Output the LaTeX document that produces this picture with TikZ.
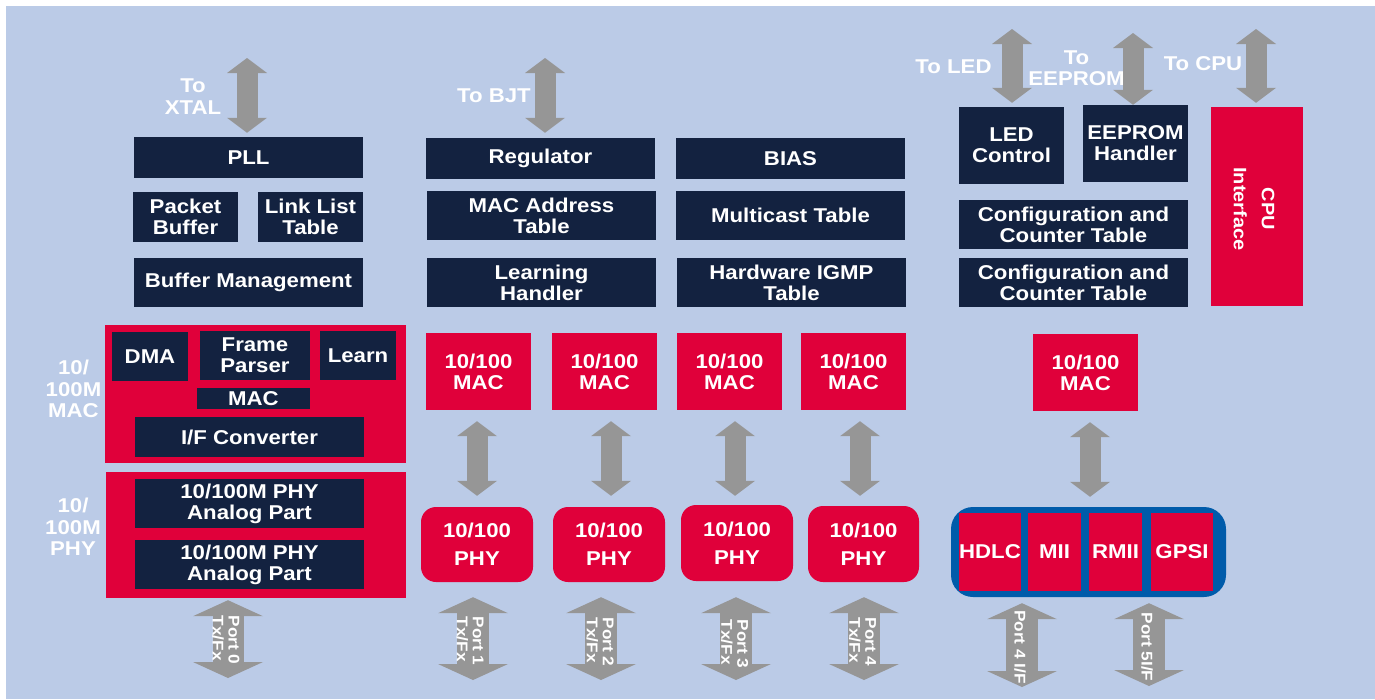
\documentclass[tikz,border=0pt]{standalone}
\usepackage{fontspec}
\setmainfont{Liberation Sans}[FakeStretch=1.11]
\usetikzlibrary{arrows.meta}
\definecolor{bgblue}{HTML}{BBCBE7}
\definecolor{navybg}{HTML}{132240}
\definecolor{redbg}{HTML}{E0003A}
\definecolor{agray}{HTML}{969696}
\definecolor{contblue}{HTML}{005BAA}
\newcommand\boxfont{\bfseries\fontsize{20}{21}\selectfont}
\tikzset{
  nbox/.style={fill=navybg, text=white, inner sep=0pt, align=center, font=\boxfont},
  rbox/.style={fill=redbg, text=white, inner sep=0pt, align=center, font=\boxfont},
  cont/.style={fill=redbg, inner sep=0pt},
  phybox/.style={fill=redbg, text=white, inner sep=0pt, align=center, rounded corners=15pt,
     font=\bfseries\fontsize{20}{28}\selectfont},
  lbl/.style={text=white, inner sep=0pt, align=center, font=\bfseries\fontsize{20}{21.5}\selectfont},
  portlbl/.style={text=white, inner sep=0pt, align=left, rotate=-90, font=\bfseries\fontsize{15.5}{16}\selectfont},
  dblS/.style={draw=agray, line width=21pt,
     {Triangle[width=40pt,length=15pt,line width=0pt]}-{Triangle[width=40pt,length=15pt,line width=0pt]}},
  dblL/.style={draw=agray, line width=32pt,
     {Triangle[width=70pt,length=16pt,line width=0pt]}-{Triangle[width=70pt,length=16pt,line width=0pt]}},
}
\begin{document}
\begin{tikzpicture}[x=1pt,y=-1pt]
\useasboundingbox (0,0) rectangle (1375,699);
\fill[white] (0,0) rectangle (1375,699);
\fill[bgblue] (6,6) rectangle (1375,699);

% ---- left column
\node[nbox, minimum width=229, minimum height=41] (pll) at (248.5,157.5) {PLL};
\node[nbox, minimum width=105, minimum height=50] (pbuf) at (185.5,217) {Packet\\Buffer};
\node[nbox, minimum width=105, minimum height=50] (llt) at (310.5,217) {Link List\\Table};
\node[nbox, minimum width=229, minimum height=49] (bufm) at (248.5,282.5) {Buffer Management};

% ---- middle columns
\node[nbox, minimum width=229, minimum height=41] (reg) at (540.5,158.5) {Regulator};
\node[nbox, minimum width=229, minimum height=49] (mact) at (541.5,215.5) {MAC Address\\Table};
\node[nbox, minimum width=229, minimum height=49] (learnh) at (541.5,282.5) {Learning\\Handler};
\node[nbox, minimum width=229, minimum height=41] (bias) at (790.5,158.5) {BIAS};
\node[nbox, minimum width=229, minimum height=49] (mcast) at (790.5,215.5) {Multicast Table};
\node[nbox, minimum width=229, minimum height=49] (igmp) at (791.5,282.5) {Hardware IGMP\\Table};

% ---- right column
\node[nbox, minimum width=105, minimum height=77] (led) at (1011.5,145.5) {LED\\Control};
\node[nbox, minimum width=105, minimum height=77] (eep) at (1135.5,143.5) {EEPROM\\Handler};
\node[nbox, minimum width=229, minimum height=49] (cfga) at (1073.5,224.5) {Configuration and\\Counter Table};
\node[nbox, minimum width=229, minimum height=49] (cfgb) at (1073.5,282.5) {Configuration and\\Counter Table};
\node[cont, minimum width=92, minimum height=199] (cpu) at (1257,206.5) {};
\node[text=white, inner sep=0pt, align=center, rotate=-90, font=\bfseries\fontsize{18}{28}\selectfont]
  (cputxt) at (1254,209) {CPU\\Interface};

% ---- MAC / PHY containers
\node[cont, minimum width=301, minimum height=138] (macc) at (255.5,394) {};
\node[nbox, minimum width=76, minimum height=49] (dma) at (150,356.5) {DMA};
\node[nbox, minimum width=110, minimum height=49] (fp) at (255,355.5) {Frame\\Parser};
\node[nbox, minimum width=76, minimum height=49] (learn) at (358,355.5) {Learn};
\node[nbox, minimum width=113, minimum height=21] (mac) at (253.5,398.5) {MAC};
\node[nbox, minimum width=229, minimum height=40] (ifc) at (249.5,437) {I/F Converter};
\node[cont, minimum width=300, minimum height=126] (phyc) at (256,535) {};
\node[nbox, minimum width=229, minimum height=49] (aphya) at (249.5,503.5) {10/100M PHY\\Analog Part};
\node[nbox, minimum width=229, minimum height=49] (aphyb) at (249.5,564.5) {10/100M PHY\\Analog Part};

\node[lbl] (maclbl) at (73.5,389) {10/\\100M\\MAC};
\node[lbl] (phylbl) at (73,527) {10/\\100M\\PHY};

% ---- MAC row
\node[rbox, minimum width=105, minimum height=77] (m1) at (478.5,371.5) {10/100\\MAC};
\node[rbox, minimum width=105, minimum height=77] (m2) at (604.5,371.5) {10/100\\MAC};
\node[rbox, minimum width=105, minimum height=77] (m3) at (729.5,371.5) {10/100\\MAC};
\node[rbox, minimum width=105, minimum height=77] (m4) at (853.5,371.5) {10/100\\MAC};
\node[rbox, minimum width=105, minimum height=77] (m5) at (1085.5,372.5) {10/100\\MAC};

% ---- PHY row
\node[phybox, minimum width=112, minimum height=75] (p1) at (477,544.5) {10/100\\PHY};
\node[phybox, minimum width=112, minimum height=75] (p2) at (609,544.5) {10/100\\PHY};
\node[phybox, minimum width=112, minimum height=76] (p3) at (737,543) {10/100\\PHY};
\node[phybox, minimum width=111, minimum height=76] (p4) at (863.5,544) {10/100\\PHY};

\node[fill=contblue, rounded corners=22pt, minimum width=275, minimum height=90, inner sep=0pt] (bluec) at (1088.5,552) {};
\node[rbox, minimum width=62, minimum height=78] (hdlc) at (990,552) {HDLC};
\node[rbox, minimum width=53, minimum height=78] (mii) at (1054.5,552) {MII};
\node[rbox, minimum width=53, minimum height=78] (rmii) at (1115.5,552) {RMII};
\node[rbox, minimum width=62, minimum height=78] (gpsi) at (1182,552) {GPSI};

% ---- top arrows
\coordinate (xtal) at (247,58);
\coordinate (bjt) at (545,58);
\coordinate (ledc) at (1012,29);
\coordinate (eepc) at (1133,33);
\coordinate (cpuc) at (1256,29);
\draw[dblS, shorten >=4pt] (xtal) -- (xtal |- pll.north);
\draw[dblS, shorten >=5pt] (bjt) -- (bjt |- reg.north);
\draw[dblS, shorten >=4pt] (ledc) -- (ledc |- led.north);
\draw[dblS] (eepc) -- (eepc |- eep.north);
\draw[dblS, shorten >=4pt] (cpuc) -- (cpuc |- cpu.north);

\node[lbl] (tx) at (193,96.5) {To\\XTAL};
\node[lbl] (tb) at (494,96) {To BJT};
\node[lbl] (tl) at (953.5,67) {To LED};
\node[lbl] (te) at (1076.5,68) {To\\EEPROM};
\node[lbl] (tc) at (1203,64) {To CPU};

% ---- MAC-PHY arrows
\draw[dblS, shorten <=11pt, shorten >=11pt] (m1.south -| p1.north) -- (p1.north);
\draw[dblS, shorten <=11pt, shorten >=11pt] ([xshift=2pt]m2.south -| p2.north) -- ([xshift=2pt]p2.north);
\draw[dblS, shorten <=11pt, shorten >=9pt] ([xshift=-2pt]m3.south -| p3.north) -- ([xshift=-2pt]p3.north);
\draw[dblS, shorten <=11pt, shorten >=10pt] ([xshift=-3.5pt]m4.south -| p4.north) -- ([xshift=-3.5pt]p4.north);
\draw[dblS, shorten <=11pt, shorten >=10pt] ([xshift=1.5pt]m5.south -| bluec.north) -- ([xshift=1.5pt]bluec.north);

% ---- port arrows
\coordinate (pt0) at (228,678);
\coordinate (pt1) at (473,680);
\coordinate (pt2) at (601,680);
\coordinate (pt3) at (736,680);
\coordinate (pt4) at (864,680);
\coordinate (pt5) at (1022,687);
\coordinate (pt6) at (1149,686);
\draw[dblL, line width=31pt, shorten <=2pt] (phyc.south -| pt0) -- (pt0);
\draw[dblL, shorten <=15pt] (p1.south -| pt1) -- (pt1);
\draw[dblL, shorten <=15pt] (p2.south -| pt2) -- (pt2);
\draw[dblL, shorten <=16pt] (p3.south -| pt3) -- (pt3);
\draw[dblL, shorten <=15pt] (p4.south -| pt4) -- (pt4);
\draw[dblL, shorten <=6pt] (bluec.south -| pt5) -- (pt5);
\draw[dblL, shorten <=6pt] (bluec.south -| pt6) -- (pt6);

\node[portlbl] (l0) at (226,640) {Port 0\\Tx/Fx};
\node[portlbl] (l1) at (470,641) {Port 1\\Tx/Fx};
\node[portlbl] (l2) at (600,642) {Port 2\\Tx/Fx};
\node[portlbl] (l3) at (734.5,644) {Port 3\\Tx/Fx};
\node[portlbl] (l4) at (862.5,642) {Port 4\\Tx/Fx};
\node[portlbl] (l5) at (1020,647) {Port 4 I/F};
\node[portlbl] (l6) at (1147,647) {Port 5I/F};
\end{tikzpicture}
\end{document}
